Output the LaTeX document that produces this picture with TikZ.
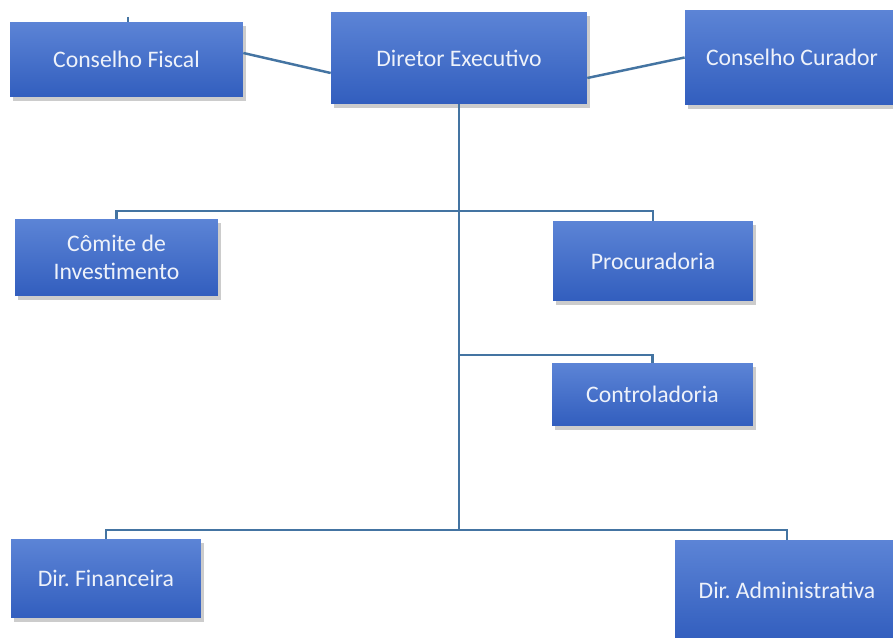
\documentclass[tikz,border=0pt]{standalone}
\usepackage{fontspec}
\setmainfont{Carlito}
\usetikzlibrary{shadows}
\definecolor{boxtop}{RGB}{92,132,214}
\definecolor{boxbot}{RGB}{50,94,190}
\definecolor{linkblue}{RGB}{68,116,162}
\definecolor{boxtext}{RGB}{238,242,250}
\begin{document}
\begin{tikzpicture}[x=0.02cm, y=-0.02cm,
    box/.style={rectangle, inner sep=2pt, align=center, text=boxtext,
        top color=boxtop, bottom color=boxbot,
        font=\fontsize{13.5}{16}\selectfont,
        drop shadow={shadow xshift=1.5pt, shadow yshift=-2.5pt, opacity=0.4}},
    link/.style={draw=linkblue, line width=1.4pt}]
        \clip (0, 0) rectangle (893, 638);
        \fill[white] (0, 0) rectangle (893, 638);

        % top row
        \node[box, minimum width=4.66cm, minimum height=1.5cm] (fiscal) at (126.5, 59.5) {Conselho Fiscal};
        \node[box, minimum width=5.12cm, minimum height=1.84cm] (diretor) at (459, 58) {Diretor Executivo};
        \node[box, minimum width=4.28cm, minimum height=1.9cm] (curador) at (792, 57.5) {Conselho Curador};

        % middle
        \node[box, minimum width=4.06cm, minimum height=1.54cm] (comite) at (116.5, 257.5) {Cômite de\\Investimento};
        \node[box, minimum width=4cm, minimum height=1.6cm] (procur) at (653, 261) {Procuradoria};
        \node[box, minimum width=4.02cm, minimum height=1.26cm] (control) at (652.5, 394.5) {Controladoria};

        % bottom row
        \node[box, minimum width=3.8cm, minimum height=1.58cm] (financ) at (106, 578.5) {Dir.\ Financeira};
        \node[box, minimum width=4.48cm, minimum height=2cm] (admin) at (787, 590) {Dir.\ Administrativa};

        \coordinate (j1) at (459, 211);
        \coordinate (j2) at (459, 355);
        \coordinate (j3) at (459, 530);
        \coordinate (stub) at (128, 17);

        \draw[link] ([yshift=0.13cm]fiscal.east) -- ([yshift=-0.3cm]diretor.west);
        \draw[link] ([yshift=-0.4cm]diretor.east) -- (curador.west);
        \draw[linkblue, line width=0.6pt] (stub) -- (stub |- fiscal.north);

        \draw[link] (diretor.south) -- (j3);
        \draw[link] (comite.north) -- (comite.north |- j1) -- (procur.north |- j1) -- (procur.north);
        \draw[link] (j2) -- (control.north |- j2) -- (control.north);
        \draw[link] (financ.north) -- (financ.north |- j3) -- (admin.north |- j3) -- (admin.north);
    \end{tikzpicture}
\end{document}
